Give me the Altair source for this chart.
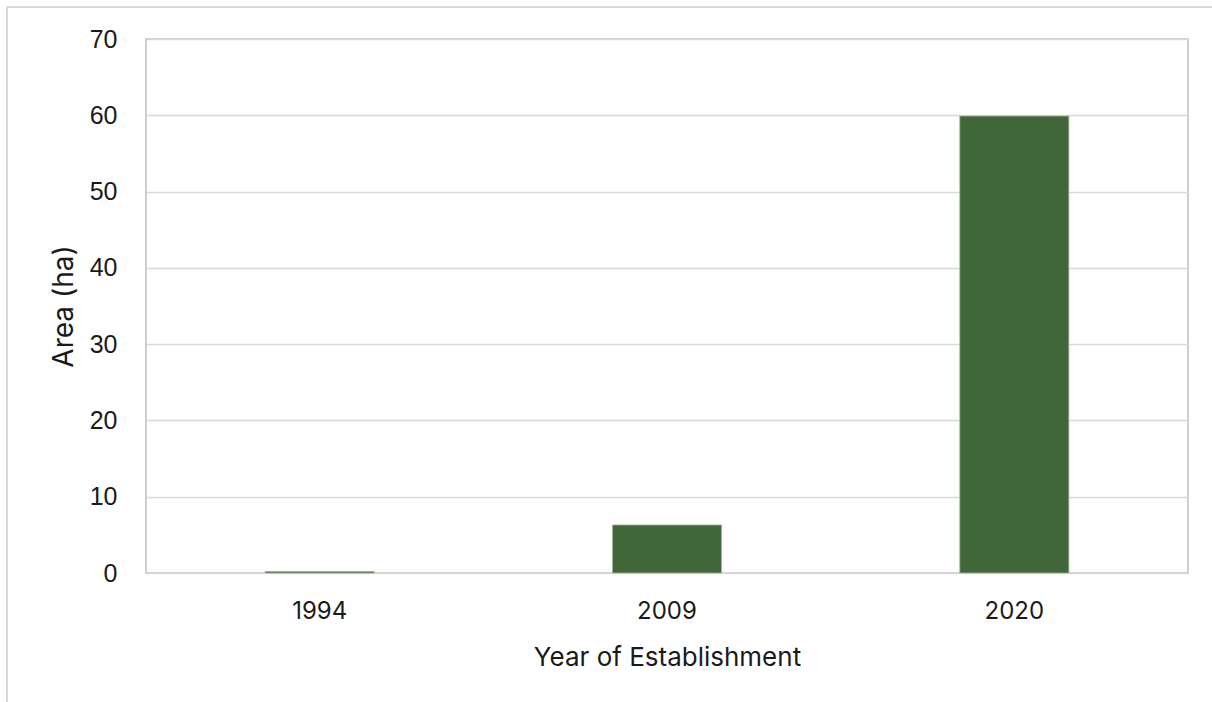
import altair as alt
import pandas as pd

years = ["1994", "2009", "2020"]
area = [0.2, 6.3, 59.9]

df = pd.DataFrame({"year": years, "area": area})

FONT = "Inter"

bars = alt.Chart(df).mark_bar(
    color="#41663a", stroke="#9db894", strokeWidth=0.8
).encode(
    x=alt.X(
        "year:N",
        sort=years,
        scale=alt.Scale(paddingInner=0.686, paddingOuter=0.343),
        axis=alt.Axis(
            title="Year of Establishment",
            labelAngle=0,
            ticks=False,
            domain=False,
            labelPadding=26,
            labelFont=FONT,
            labelFontSize=24,
            labelColor="#1a1a1a",
            titleFont=FONT,
            titleFontSize=26,
            titleFontWeight="normal",
            titleColor="#1a1a1a",
            titleY=84,
            titleBaseline="middle",
        ),
    ),
    y=alt.Y(
        "area:Q",
        scale=alt.Scale(domain=[0, 70]),
        axis=alt.Axis(
            title="Area (ha)",
            values=[0, 10, 20, 30, 40, 50, 60, 70],
            ticks=False,
            domain=False,
            labelPadding=29,
            labelFont="Liberation Sans",
            labelFontSize=25,
            labelColor="#1a1a1a",
            gridColor="#d9d9d9",
            gridWidth=1.5,
            titleFont=FONT,
            titleFontSize=28,
            titleFontWeight="normal",
            titleColor="#1a1a1a",
            titleAngle=-90,
            titleX=-82,
            titleY=267,
            titleBaseline="middle",
            titleAlign="center",
        ),
    ),
)

frame_df = pd.DataFrame({"k": [0]})
frame_v = alt.Chart(frame_df).mark_rule(color="#d9d9d9", strokeWidth=2).encode(
    x=alt.value(-139), y=alt.value(-32), y2=alt.value(663)
)
frame_h = alt.Chart(frame_df).mark_rule(color="#d9d9d9", strokeWidth=2).encode(
    x=alt.value(-139), x2=alt.value(1066), y=alt.value(-32)
)

chart = alt.layer(frame_v, frame_h, bars).properties(
    width=1042,
    height=534,
    padding={"left": 146, "top": 39, "right": 24, "bottom": 129},
    autosize=alt.AutoSizeParams(type="none"),
    background="white",
).configure_view(stroke="#bfbfbf", strokeWidth=1.5)

chart.save("out.html", embed_options={"renderer": "svg", "actions": False})
